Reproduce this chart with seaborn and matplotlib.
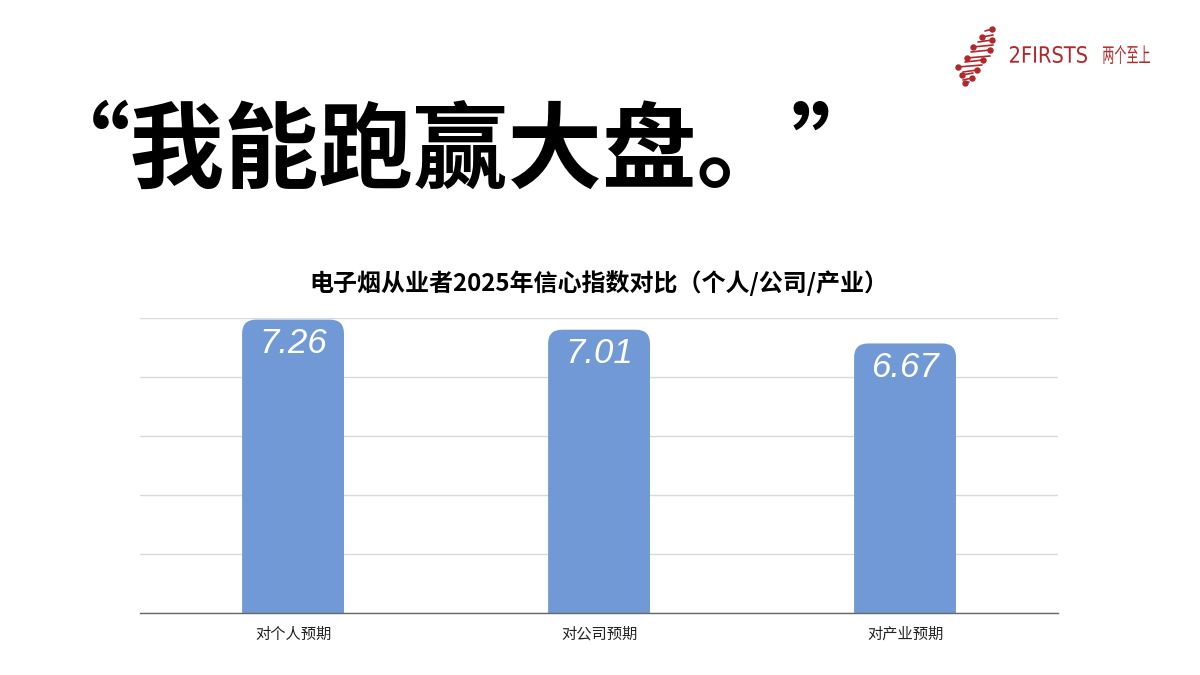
import matplotlib.pyplot as plt
import seaborn as sns
import pandas as pd
from matplotlib.patches import FancyBboxPatch, PathPatch
from matplotlib.lines import Line2D
from matplotlib.textpath import TextPath
from matplotlib.font_manager import FontProperties
from matplotlib.transforms import Affine2D, IdentityTransform

# chart data
categories = ['对个人预期', '对公司预期', '对产业预期']
scores = [7.26, 7.01, 6.67]
score_labels = ['7.26', '7.01', '6.67']

headline = '“我能跑赢大盘。”'
chart_title = '电子烟从业者2025年信心指数对比（个人/公司/产业）'
brand_latin = '2FIRSTS'
brand_cjk = '两个至上'

bar_color = '#7199d6'
brand_red = '#b0282a'
y_top = 7.3
W, H = 1200, 675

sns.set_theme(style='white')
plt.rcParams['font.family'] = ['Noto Sans CJK SC', 'DejaVu Sans']

fig = plt.figure(figsize=(12, 6.75), dpi=100)
ax = fig.add_axes([0.1167, 0.0919, 0.765, 0.437])

df = pd.DataFrame({'cat': categories, 'score': scores})
sns.barplot(data=df, x='cat', y='score', color=bar_color, saturation=1,
            width=0.333, ax=ax)

ax.set_xlim(-0.5, 2.5)
ax.set_ylim(0, y_top)
ax.set_yticks([y_top * i / 5 for i in range(6)])
ax.set_yticklabels([])
ax.yaxis.grid(True, color='#d9d9d9', lw=1)
ax.set_axisbelow(True)
ax.tick_params(axis='y', length=0)
ax.tick_params(axis='x', length=0, pad=9, labelsize=11, labelcolor='#222222')
ax.set_xlabel('')
ax.set_ylabel('')
for s in ['top', 'left', 'right']:
    ax.spines[s].set_visible(False)
ax.spines['bottom'].set_color('#666666')
ax.spines['bottom'].set_linewidth(1)
ax.spines['bottom'].set_zorder(5)

# swap the square bars for ones with rounded tops
px_x = ax.get_position().width * W / 3.0
px_y = ax.get_position().height * H / y_top
radius = 14 / px_x
for p in list(ax.patches):
    x, w, h = p.get_x(), p.get_width(), p.get_height()
    box = FancyBboxPatch((x, -1), w, h + 1,
                         boxstyle=f'round,pad=0,rounding_size={radius}',
                         mutation_aspect=px_x / px_y,
                         fc=bar_color, ec='none', zorder=3)
    p.remove()
    ax.add_patch(box)

for i, (v, lab) in enumerate(zip(scores, score_labels)):
    ax.text(i, v - 0.6, lab, ha='center', va='center', color='white',
            fontsize=25, style='italic', family='Liberation Sans', zorder=4)

# headline and chart title
fig.text(36 / W, 1 - 153 / H, headline, fontsize=68, weight='bold',
         ha='left', va='center', color='black')
fig.text(0.499, 1 - 283 / H, chart_title, fontsize=17.3, weight='bold',
         ha='center', va='center', color='black')

# logo: helix icon
icon = [((985, 31), (992, 29)), ((982, 37), (993, 35)), ((978, 42), (992, 40)),
        ((973, 47), (993, 45)), ((971, 52), (990, 50)), ((967, 58), (990, 56)),
        ((965, 62), (983, 60)), ((958, 67), (982, 65)), ((963, 72), (977, 70)),
        ((962, 75), (973, 73)), ((963, 80), (972, 78)), ((965, 83), (969, 82))]
for k, ((x0, y0), (x1, y1)) in enumerate(icon):
    fig.add_artist(Line2D([x0 / W, x1 / W], [1 - y0 / H, 1 - y1 / H],
                          color=brand_red, lw=1.2))
    dx, dy = (x1, y1) if k % 2 == 0 else (x0, y0)
    fig.add_artist(Line2D([dx / W], [1 - dy / H], marker='o', ms=3.6,
                          color=brand_red))


# logo words, squeezed into their boxes (pixel coords, y from top)
def fitted_text(s, family, x0, x1, ytop, ybot):
    tp = TextPath((0, 0), s, size=40, prop=FontProperties(family=family))
    ext = tp.get_extents()
    sx = (x1 - x0) / ext.width
    sy = (ybot - ytop) / ext.height
    tr = Affine2D().translate(-ext.x0, -ext.y0).scale(sx, sy).translate(x0, H - ybot)
    fig.add_artist(PathPatch(tr.transform_path(tp), transform=IdentityTransform(),
                             fc=brand_red, ec='none'))


fitted_text(brand_latin, 'DejaVu Sans', 1010, 1087, 46, 63)
fitted_text(brand_cjk, 'Noto Sans CJK SC', 1103, 1150, 45, 64)

fig.savefig('out.png', dpi=100)
